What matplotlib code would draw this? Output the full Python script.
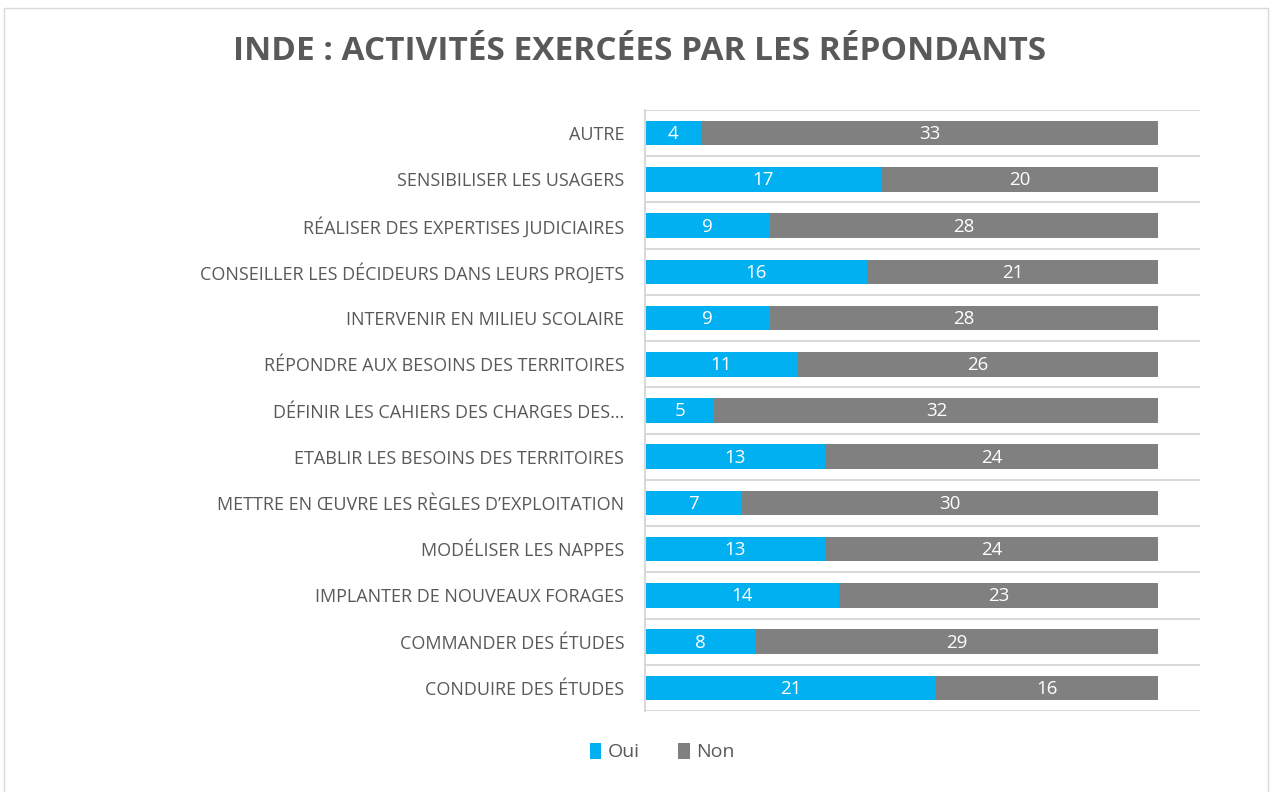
import matplotlib
matplotlib.use("Agg")
import matplotlib.pyplot as plt
from matplotlib.patches import Rectangle
from matplotlib.ticker import FixedLocator

categories = [
    "AUTRE",
    "SENSIBILISER LES USAGERS",
    "RÉALISER DES EXPERTISES JUDICIAIRES",
    "CONSEILLER LES DÉCIDEURS DANS LEURS PROJETS",
    "INTERVENIR EN MILIEU SCOLAIRE",
    "RÉPONDRE AUX BESOINS DES TERRITOIRES",
    "DÉFINIR LES CAHIERS DES CHARGES DES…",
    "ETABLIR LES BESOINS DES TERRITOIRES",
    "METTRE EN ŒUVRE LES RÈGLES D’EXPLOITATION",
    "MODÉLISER LES NAPPES",
    "IMPLANTER DE NOUVEAUX FORAGES",
    "COMMANDER DES ÉTUDES",
    "CONDUIRE DES ÉTUDES",
]
oui = [4, 17, 9, 16, 9, 11, 5, 13, 7, 13, 14, 8, 21]
non = [33, 20, 28, 21, 28, 26, 32, 24, 30, 24, 23, 29, 16]
series_names = ["Oui", "Non"]
title = "INDE : ACTIVITÉS EXERCÉES PAR LES RÉPONDANTS"

BLUE = "#00B0F0"
GREY = "#808080"
TXT = "#595959"
GRID = "#D9D9D9"

plt.rcParams['font.family'] = ['Open Sans', 'DejaVu Sans']

fig = plt.figure(figsize=(12.73, 7.92), dpi=100)
fig.patches.append(Rectangle((4/1273, -0.01), 1264/1273, 1 - 8/792 + 0.01,
                             transform=fig.transFigure, fill=False,
                             edgecolor=GRID, linewidth=1))
ax = fig.add_axes([645/1273, 1 - 711/792, 555/1273, 601/792])

y = list(range(len(categories)))
b1 = ax.barh(y, oui, height=0.53, color=BLUE, label=series_names[0])
b2 = ax.barh(y, non, left=oui, height=0.53, color=GREY, label=series_names[1])

for vals, lefts in ((oui, [0]*len(oui)), (non, oui)):
    for yi, v, l in zip(y, vals, lefts):
        ax.text(l + v / 2, yi + 0.02, str(v), ha="center", va="center",
                color="white", fontsize=13.5)

ax.set_xlim(0, 40)
ax.set_ylim(len(categories) - 0.5, -0.5)
ax.set_yticks(y)
ax.set_yticklabels(categories, fontsize=13, color=TXT)
ax.yaxis.set_minor_locator(FixedLocator([i - 0.5 for i in range(len(categories) + 1)]))
ax.tick_params(axis="y", which="both", length=0, pad=15)
ax.grid(True, axis="y", which="minor", color=GRID, linewidth=1.5)
ax.set_xticks([])
for s in ("top", "right", "bottom"):
    ax.spines[s].set_visible(False)
ax.spines["left"].set_color(GRID)
ax.spines["left"].set_linewidth(1.5)
ax.set_axisbelow(True)

fig.text(640/1273, 1 - 52/792, title, ha="center", va="center",
         fontsize=24, fontweight="bold", color=TXT)

fig.legend(handles=[b1, b2], labels=series_names, loc="center",
           bbox_to_anchor=(662/1273, 1 - 752/792), ncol=2, frameon=False,
           fontsize=14, handlelength=0.6, handleheight=0.9, columnspacing=2.0,
           handletextpad=0.3, labelcolor=TXT)

fig.savefig("out.png", dpi=100)
